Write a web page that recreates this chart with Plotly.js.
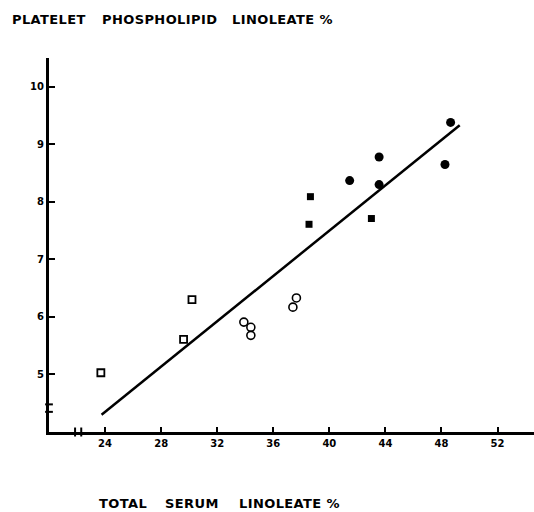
<!DOCTYPE html>
<html><head><meta charset="utf-8">
<script src="https://cdn.plot.ly/plotly-3.0.1.min.js"></script>
<style>html,body{margin:0;padding:0;background:#fff}#c{width:534px;height:512px}
.annotation-text{letter-spacing:0.4px}</style>
</head><body><div id="c"></div>
<script>
// Open squares
const openSqX = [23.7, 29.6, 30.2];
const openSqY = [5.03, 5.61, 6.30];
// Open circles
const openCircX = [33.9, 34.4, 34.4, 37.4, 37.65];
const openCircY = [5.91, 5.82, 5.68, 6.17, 6.33];
// Filled squares
const fillSqX = [38.65, 38.55, 43.0];
const fillSqY = [8.09, 7.61, 7.71];
// Filled circles
const fillCircX = [41.45, 43.55, 43.55, 48.25, 48.65];
const fillCircY = [8.37, 8.78, 8.30, 8.65, 9.38];
// Regression line end points
const lineX = [23.75, 49.3];
const lineY = [4.30, 9.33];
// Tick labels
const xTicks = [24, 28, 32, 36, 40, 44, 48, 52];
const yTicks = [5, 6, 7, 8, 9, 10];
// Axis title words
const yTitleWords = ['PLATELET', 'PHOSPHOLIPID', 'LINOLEATE\u00a0%'];
const xTitleWords = ['TOTAL', 'SERUM', 'LINOLEATE\u00a0%'];

const FONT = 'DejaVu Sans, Arial Black, sans-serif';
const traces = [
  {x: lineX, y: lineY, mode: 'lines', line: {color: '#000', width: 2.5}, hoverinfo: 'skip'},
  {x: openSqX, y: openSqY, mode: 'markers', marker: {symbol: 'square-open', size: 7, color: '#000', line: {width: 1.8}}},
  {x: openCircX, y: openCircY, mode: 'markers', marker: {symbol: 'circle-open', size: 8, color: '#000', line: {width: 1.6}}},
  {x: fillSqX, y: fillSqY, mode: 'markers', marker: {symbol: 'square', size: 7, color: '#000'}},
  {x: fillCircX, y: fillCircY, mode: 'markers', marker: {symbol: 'circle', size: 9, color: '#000'}}
];

// pixel -> paper conversion helpers for annotation placement
const L = 49, W = 485, B = 432, H = 374;
const px = p => (p - L) / W;
const py = p => (B - p) / H;
const yTitleX = [10, 100, 230];
const xTitleX = [97, 163, 237];
const annotations = [];
yTitleWords.forEach((w, i) => annotations.push({
  text: w, xref: 'paper', yref: 'paper', x: px(yTitleX[i]), y: py(19.5),
  xanchor: 'left', yanchor: 'middle', showarrow: false,
  font: {family: FONT, size: 13, color: '#000', weight: 'bold'}
}));
xTitleWords.forEach((w, i) => annotations.push({
  text: w, xref: 'paper', yref: 'paper', x: px(xTitleX[i]), y: py(503.5),
  xanchor: 'left', yanchor: 'middle', showarrow: false,
  font: {family: FONT, size: 13, color: '#000', weight: 'bold'}
}));

const layout = {
  width: 534, height: 512,
  margin: {l: 49, r: 0, t: 58, b: 80},
  showlegend: false,
  paper_bgcolor: '#fff', plot_bgcolor: '#fff',
  font: {family: FONT, color: '#000'},
  xaxis: {
    range: [20, 54.6], showgrid: false, zeroline: false,
    showline: true, linecolor: '#000', linewidth: 3,
    tickmode: 'array', tickvals: xTicks, ticktext: xTicks.map(String),
    ticks: 'inside', ticklen: 5, tickwidth: 2, tickcolor: '#000',
    tickfont: {family: FONT, size: 10, color: '#000', weight: 'bold'}
  },
  yaxis: {
    range: [4, 10.5], showgrid: false, zeroline: false,
    showline: true, linecolor: '#000', linewidth: 3,
    tickmode: 'array', tickvals: yTicks, ticktext: yTicks.map(String),
    ticks: 'inside', ticklen: 6, tickwidth: 2, tickcolor: '#000',
    ticklabelstandoff: 0,
    tickfont: {family: FONT, size: 10, color: '#000', weight: 'bold'}
  },
  shapes: [
    // y-axis break marks
    {type: 'line', xref: 'paper', yref: 'y', x0: -0.008, x1: 0.008, y0: 4.48, y1: 4.48, line: {color: '#000', width: 2}},
    {type: 'line', xref: 'paper', yref: 'y', x0: -0.008, x1: 0.008, y0: 4.35, y1: 4.35, line: {color: '#000', width: 2}},
    // x-axis break marks
    {type: 'line', xref: 'x', yref: 'paper', x0: 21.86, x1: 21.86, y0: -0.012, y1: 0.012, line: {color: '#000', width: 2}},
    {type: 'line', xref: 'x', yref: 'paper', x0: 22.3, x1: 22.3, y0: -0.012, y1: 0.012, line: {color: '#000', width: 2}}
  ],
  annotations: annotations
};
Plotly.newPlot('c', traces, layout, {displayModeBar: false, staticPlot: true});
</script>
</body></html>
